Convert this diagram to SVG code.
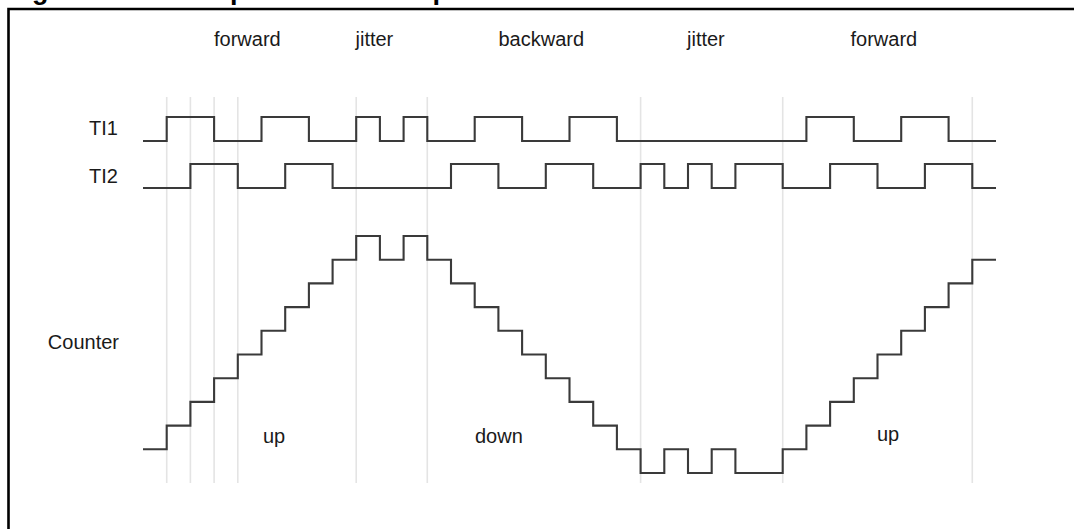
<svg xmlns="http://www.w3.org/2000/svg" width="1074" height="529" viewBox="0 0 1074 529">
<style>
.bg{fill:#ffffff}
.frame{fill:none;stroke:#000;stroke-width:2.6}
.title{font-family:"Liberation Sans",Arial,sans-serif;font-weight:bold;font-size:27px;fill:#000}
.guide{stroke:#e4e4e4;stroke-width:1.6;fill:none}
.sig{fill:none;stroke:#3a3a3a;stroke-width:2.1;stroke-linejoin:miter}
.lbl{font-family:"Liberation Sans",Arial,sans-serif;font-size:20px;fill:#1a1a1a}
</style>
<rect class="bg" x="0" y="0" width="1074" height="529"/>
<text class="title" x="8" y="-1.5">Figure 134. Example of counter operation in encoder interface mode</text>
<path class="frame" d="M8.5,529 V9 H1074"/>
<g id="guides">
<path class="guide" d="M166.7,97 V483 M190.4,97 V483 M214.1,97 V483 M237.8,97 V483 M356.2,97 V483 M427.3,97 V483 M640.6,97 V483 M782.7,97 V483 M972.3,97 V483"/>
</g>
<g id="phase-labels" class="lbl">
<text x="214" y="46">forward</text>
<text x="355.5" y="46">jitter</text>
<text x="498.5" y="46">backward</text>
<text x="687" y="46">jitter</text>
<text x="850.5" y="46">forward</text>
</g>
<g id="TI1">
<text class="lbl" x="118" y="135" text-anchor="end">TI1</text>
<path class="sig" d="M143,141 H166.7 V117 H214.1 V141 H261.5 V117 H308.9 V141 H356.2 V117 H379.9 V141 H403.6 V117 H427.3 V141 H474.7 V117 H522.1 V141 H569.5 V117 H616.9 V141 H806.4 V117 H853.8 V141 H901.2 V117 H948.6 V141 H996"/>
</g>
<g id="TI2">
<text class="lbl" x="118" y="183" text-anchor="end">TI2</text>
<path class="sig" d="M143,188 H190.4 V164 H237.8 V188 H285.2 V164 H332.6 V188 H451 V164 H498.4 V188 H545.8 V164 H593.2 V188 H640.6 V164 H664.3 V188 H688 V164 H711.7 V188 H735.4 V164 H782.7 V188 H830.1 V164 H877.5 V188 H924.9 V164 H972.3 V188 H996"/>
</g>
<g id="Counter">
<text class="lbl" x="119" y="349" text-anchor="end">Counter</text>
<path class="sig" d="M143,449.3 H166.7 V425.6 H190.4 V401.9 H214.1 V378.2 H237.8 V354.5 H261.5 V330.8 H285.2 V307.1 H308.9 V283.4 H332.6 V259.7 H356.2 V236 H379.9 V259.7 H403.6 V236 H427.3 V259.7 H451 V283.4 H474.7 V307.1 H498.4 V330.8 H522.1 V354.5 H545.8 V378.2 H569.5 V401.9 H593.2 V425.6 H616.9 V449.3 H640.6 V473 H664.3 V449.3 H688 V473 H711.7 V449.3 H735.4 V473 H782.7 V449.3 H806.4 V425.6 H830.1 V401.9 H853.8 V378.2 H877.5 V354.5 H901.2 V330.8 H924.9 V307.1 H948.6 V283.4 H972.3 V259.7 H996"/>
</g>
<g id="direction-labels" class="lbl">
<text x="263" y="443">up</text>
<text x="475" y="443">down</text>
<text x="877" y="441">up</text>
</g>
</svg>
